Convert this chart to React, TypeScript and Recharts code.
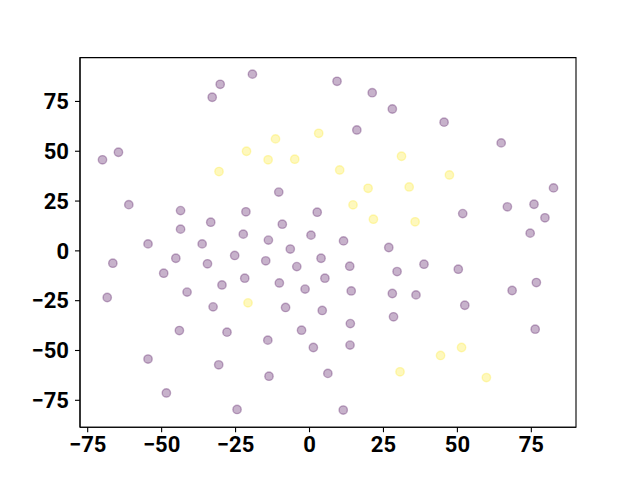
import { ScatterChart, Scatter, XAxis, YAxis, ReferenceArea } from 'recharts';

// points, split by class colour
const purpleX = [
  -19.3, -30.2, -32.9, -70.0, -64.6, -10.4, -61.1, -43.6, -21.5, 2.6, -33.4, -43.6, -9.2, -22.4, -13.9, 0.5,
  -54.6, -36.3, 9.3, 21.2, 28.0, 45.5, 16.0, 64.8, 51.8, 66.9, 75.9, 82.5, 79.6, 74.6, 11.5, 26.8, -66.5,
  -45.2, -25.3, -6.5, 3.9, -49.3, -34.5, -14.8, -4.3, 5.2, -68.4, -41.4, -29.6, -21.9, -10.2, -1.5, -32.6,
  -8.1, 4.3, -44.0, -27.9, -2.7, -14.1, 1.3, -54.6, -30.7, -13.7, 6.2, -48.4, -24.5, 13.6, 29.6, 38.7, 50.3,
  14.1, 28.0, 36.0, 68.5, 76.7, 52.5, 13.8, 28.4, 76.3, 13.7, 11.4,
];
const purpleY = [
  88.7, 83.6, 77.1, 45.7, 49.5, 29.5, 23.2, 20.2, 19.6, 19.4, 14.4, 10.9, 13.4, 8.4, 5.4, 7.9, 3.5, 3.5, 85.1,
  79.4, 71.2, 64.6, 60.7, 54.2, 18.7, 22.1, 23.4, 31.6, 16.6, 8.9, 5.0, 1.7, -6.2, -3.7, -2.3, 0.9, -3.7,
  -11.2, -6.5, -5.0, -7.9, -13.7, -23.4, -20.7, -17.1, -13.7, -16.1, -19.2, -28.1, -28.4, -29.9, -40.0, -40.8,
  -39.8, -44.8, -48.5, -54.3, -57.2, -62.9, -61.5, -71.3, -79.6, -7.7, -10.4, -6.7, -9.2, -20.1, -21.4, -22.1,
  -19.9, -15.9, -27.3, -36.5, -33.1, -39.3, -47.3, -79.9,
];
const yellowX = [
  -30.6, -21.3, -11.5, -14.0, -5.0, 3.1, 31.1, 10.2, 47.3, 19.8, 33.7, 14.7, 21.6, 35.7, -20.8, 51.4, 44.3,
  30.6, 59.8,
];
const yellowY = [
  39.8, 50.0, 56.2, 45.7, 46.0, 59.0, 47.5, 40.6, 38.1, 31.4, 32.1, 23.1, 15.9, 14.6, -26.1, -48.5, -52.5,
  -60.7, -63.6,
];
const ticks = [-75, -50, -25, 0, 25, 50, 75];

const purple = purpleX.map((x, i) => ({ x, y: purpleY[i] }));
const yellow = yellowX.map((x, i) => ({ x, y: yellowY[i] }));

const xDomain: [number, number] = [-77.6, 90.1];
const yDomain: [number, number] = [-88.5, 97.0];

const tickStyle = { fontFamily: 'Roboto', fontWeight: 700, fontSize: 22, fill: '#000' };
const fmt = (v: number) => String(v).replace('-', '\u2212');

const dot = (color: string) => (p: any) => (
  <circle
    cx={p.cx}
    cy={p.cy}
    r={4.2}
    fill={color}
    fillOpacity={0.3}
    stroke={color}
    strokeOpacity={0.3}
    strokeWidth={1.4}
  />
);

export default function App() {
  return (
    <div style={{ width: 640, height: 480, background: '#fff' }}>
      <style>{`body { margin: 0; }`}</style>
      <ScatterChart width={640} height={480} margin={{ top: 57.6, right: 64, bottom: 0, left: 0 }}>
        <XAxis
          type="number"
          dataKey="x"
          domain={xDomain}
          ticks={ticks}
          allowDataOverflow
          height={52.8}
          tickSize={5}
          tickMargin={4}
          tick={tickStyle}
          tickFormatter={fmt}
          axisLine={{ stroke: '#000', strokeWidth: 1.1 }}
          tickLine={{ stroke: '#000', strokeWidth: 1.1 }}
        />
        <YAxis
          type="number"
          dataKey="y"
          domain={yDomain}
          ticks={ticks}
          allowDataOverflow
          width={80}
          tickSize={5}
          tickMargin={6}
          tick={tickStyle}
          tickFormatter={fmt}
          axisLine={{ stroke: '#000', strokeWidth: 1.1 }}
          tickLine={{ stroke: '#000', strokeWidth: 1.1 }}
        />
        {/* plot frame (top/right spines) */}
        <ReferenceArea
          x1={xDomain[0]}
          x2={xDomain[1]}
          y1={yDomain[0]}
          y2={yDomain[1]}
          fill="none"
          stroke="#000"
          strokeWidth={1.1}
        />
        <Scatter data={purple} shape={dot('#440154')} isAnimationActive={false} />
        <Scatter data={yellow} shape={dot('#fde725')} isAnimationActive={false} />
      </ScatterChart>
    </div>
  );
}
